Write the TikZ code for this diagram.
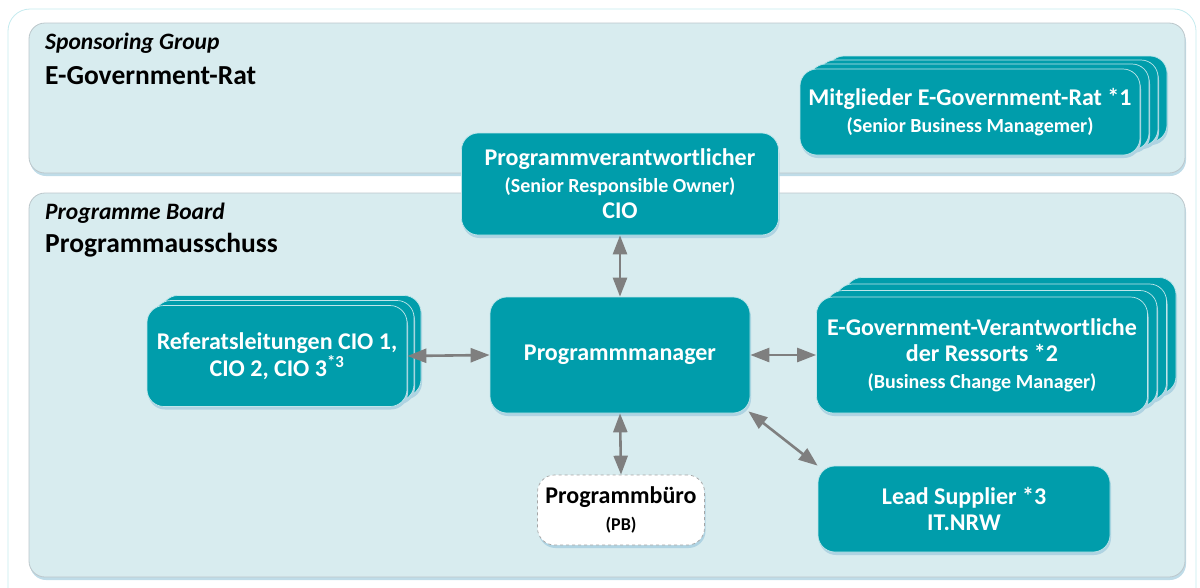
\documentclass[tikz,border=0pt]{standalone}
\usepackage{fontspec}
\setmainfont{Carlito}
\usetikzlibrary{arrows.meta,shadows}

\definecolor{boxteal}{HTML}{009DAB}
\definecolor{panelblue}{HTML}{D8ECEF}
\definecolor{panelline}{HTML}{BCC7CB}
\definecolor{outerline}{HTML}{C4EAEE}
\definecolor{shadowblue}{HTML}{AFD3E2}
\definecolor{arrowgray}{HTML}{7F7F7F}

\newcommand\titlesize{\fontsize{24}{26.5}\selectfont\bfseries}
\newcommand\subsize{\fontsize{20}{26.5}\selectfont\bfseries}
\newcommand\pbsize{\fontsize{18}{27}\selectfont\bfseries}

\tikzset{
  panel/.style={draw=panelline, fill=panelblue, line width=0.8pt, rounded corners=16pt,
    drop shadow={shadow xshift=1pt, shadow yshift=-3pt, fill=shadowblue, opacity=0.8}},
  teambox/.style={draw=white!75!boxteal, fill=boxteal, line width=0.7pt, rounded corners=17pt,
    text=white, align=center, inner sep=0pt, font=\titlesize,
    drop shadow={shadow xshift=1pt, shadow yshift=-3pt, fill=shadowblue, opacity=1}},
  officebox/.style={draw=arrowgray!70, dashed, fill=white, line width=0.7pt, rounded corners=17pt,
    align=center, inner sep=0pt, font=\titlesize, minimum width=167pt, minimum height=70pt,
    drop shadow={shadow xshift=1pt, shadow yshift=-3pt, fill=shadowblue, opacity=1}},
  heading/.style={anchor=base west, inner sep=0pt},
  link/.style={draw=arrowgray, line width=2.6pt,
    {Triangle[width=14pt,length=19pt]}-{Triangle[width=14pt,length=19pt]}},
}

\begin{document}
\begin{tikzpicture}[x=1pt,y=-1pt]
  \useasboundingbox (0,0) rectangle (1200,587);

  % frame and the two groups
  \draw[outerline, line width=0.8pt, rounded corners=22pt] (8,9) rectangle (1196,640);
  \draw[panel] (29,23) rectangle (1185,173);
  \draw[panel] (29,193) rectangle (1185,577);

  \node[heading, font=\fontsize{23.5}{26}\selectfont\bfseries\itshape] (sgname) at (45,49) {Sponsoring Group};
  \node[heading, font=\fontsize{27.5}{30}\selectfont\bfseries] (sgtitle) at (45,84) {E-Government-Rat};
  \node[heading, font=\fontsize{23.5}{26}\selectfont\bfseries\itshape] (pbname) at (45,219) {Programme Board};
  \node[heading, font=\fontsize{27.5}{30}\selectfont\bfseries] (pbtitle) at (45,252) {Programmausschuss};

  % stacked boxes (back ones first)
  \foreach \k in {3,2,1}
    \node[teambox, minimum width=340pt, minimum height=86pt] (mitg\k) at (970+9*\k,111-4*\k) {};
  \node[teambox, minimum width=340pt, minimum height=86pt] (mitg) at (970,112)
    {Mitglieder E-Government-Rat *1\\{\subsize(Senior Business Managemer)}};

  \foreach \k in {2,1}
    \node[teambox, minimum width=260pt, minimum height=101pt] (ref\k) at (277+7*\k,356-5*\k) {};
  \node[teambox, minimum width=260pt, minimum height=101pt] (ref) at (277,356)
    {Referatsleitungen CIO 1,\\CIO 2, CIO 3\textsuperscript{*3}};

  \foreach \k in {3,2,1}
    \node[teambox, minimum width=331pt, minimum height=116pt] (egov\k) at (982+9.5*\k,355-6.5*\k) {};
  \node[teambox, minimum width=331pt, minimum height=116pt] (egov) at (982,355)
    {E-Government-Verantwortliche\\der Ressorts *2\\{\subsize(Business Change Manager)}};

  % single boxes
  \node[teambox, minimum width=317pt, minimum height=102pt] (sro) at (620,184)
    {Programmverantwortlicher\\{\subsize(Senior Responsible Owner)}\\CIO};
  \node[teambox, minimum width=260pt, minimum height=116pt] (pm) at (620,355) {Programmmanager};
  \node[teambox, minimum width=292pt, minimum height=86pt] (lead) at (964,509)
    {Lead Supplier *3\\IT.NRW};
  \node[officebox] (office) at (621,510) {Programmbüro\\{\pbsize(PB)}};

  % connections
  \draw[link] (sro.south) -- (pm.north);
  \draw[link] (pm.south) -- (office.north);
  \draw[link] (ref.east) -- (pm.west);
  \draw[link] (pm.east) -- (egov.west);
  \draw[link] (pm.south east) ++(-2,-2) coordinate (pmcorner) -- (lead.north west);
\end{tikzpicture}
\end{document}
